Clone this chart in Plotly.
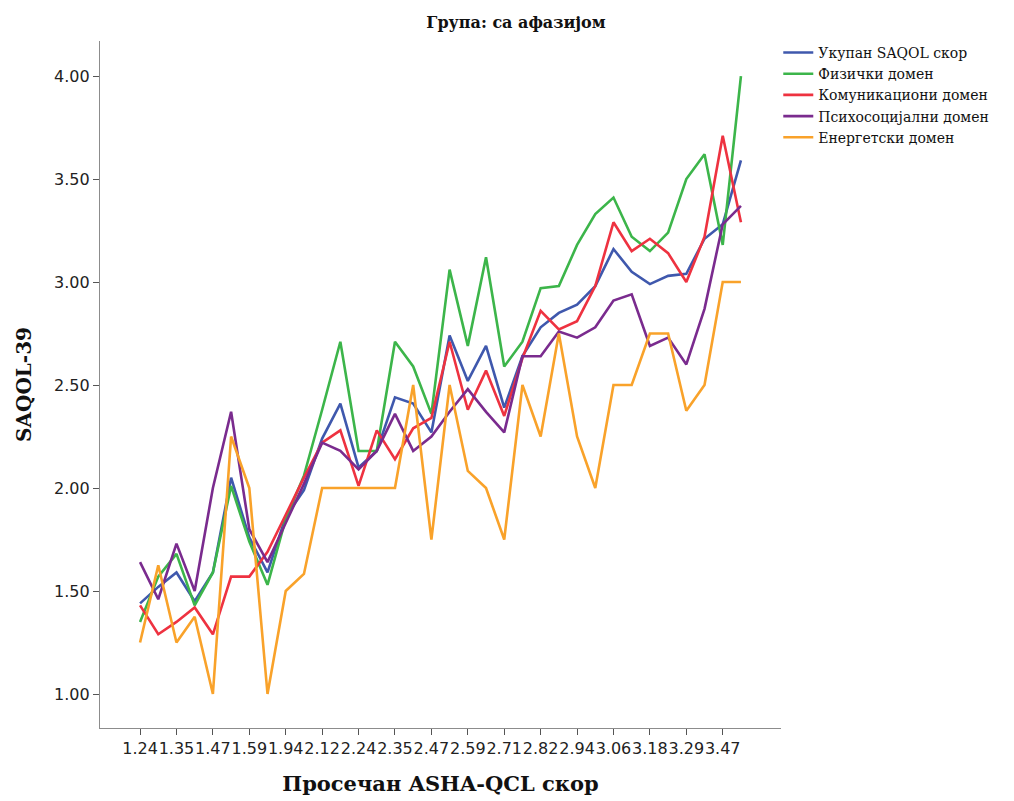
import plotly.graph_objects as go

categories = ["1.24", "1.29", "1.35", "1.41", "1.47", "1.53", "1.59", "1.76", "1.94", "2.06",
              "2.12", "2.18", "2.24", "2.29", "2.35", "2.41", "2.47", "2.53", "2.59", "2.65",
              "2.71", "2.76", "2.82", "2.88", "2.94", "3.00", "3.06", "3.12", "3.18", "3.24",
              "3.29", "3.35", "3.47", "3.53"]
tick_labels = ["1.24", "1.35", "1.47", "1.59", "1.94", "2.12", "2.24", "2.35", "2.47", "2.59",
               "2.71", "2.82", "2.94", "3.06", "3.18", "3.29", "3.47"]

ukupan = [1.44, 1.52, 1.59, 1.45, 1.59, 2.05, 1.76, 1.59, 1.86, 1.99,
          2.24, 2.41, 2.10, 2.18, 2.44, 2.41, 2.27, 2.74, 2.52, 2.69,
          2.39, 2.64, 2.78, 2.85, 2.89, 2.98, 3.16, 3.05, 2.99, 3.03,
          3.04, 3.21, 3.28, 3.59]
fizicki = [1.35, 1.57, 1.68, 1.43, 1.59, 2.01, 1.74, 1.53, 1.85, 2.06,
           2.38, 2.71, 2.18, 2.18, 2.71, 2.59, 2.36, 3.06, 2.69, 3.12,
           2.59, 2.71, 2.97, 2.98, 3.18, 3.33, 3.41, 3.22, 3.15, 3.24,
           3.50, 3.62, 3.18, 4.00]
komunikacioni = [1.43, 1.29, 1.35, 1.42, 1.29, 1.57, 1.57, 1.69, 1.87, 2.05,
                 2.22, 2.28, 2.01, 2.28, 2.14, 2.29, 2.34, 2.71, 2.38, 2.57,
                 2.35, 2.63, 2.86, 2.77, 2.81, 2.98, 3.29, 3.15, 3.21, 3.14,
                 3.00, 3.22, 3.71, 3.29]
psihosocijalni = [1.64, 1.46, 1.73, 1.50, 2.00, 2.37, 1.80, 1.64, 1.83, 2.02,
                  2.22, 2.18, 2.09, 2.18, 2.36, 2.18, 2.25, 2.37, 2.48, 2.37,
                  2.27, 2.64, 2.64, 2.76, 2.73, 2.78, 2.91, 2.94, 2.69, 2.73,
                  2.60, 2.87, 3.28, 3.37]
energetski = [1.25, 1.625, 1.25, 1.375, 1.00, 2.25, 2.00, 1.00, 1.50, 1.583,
              2.00, 2.00, 2.00, 2.00, 2.00, 2.50, 1.75, 2.50, 2.083, 2.00,
              1.75, 2.50, 2.25, 2.75, 2.25, 2.00, 2.50, 2.50, 2.75, 2.75,
              2.375, 2.50, 3.00, 3.00]

series = [
    ("Укупан SAQOL скор", ukupan, "#3f58ad"),
    ("Физички домен", fizicki, "#3cb54a"),
    ("Комуникациони домен", komunikacioni, "#ee3240"),
    ("Психосоцијални домен", psihosocijalni, "#7a2b8e"),
    ("Енергетски домен", energetski, "#f9a22a"),
]

fig = go.Figure()
for name, vals, color in series:
    fig.add_trace(go.Scatter(x=categories, y=vals, mode="lines", name=name,
                             line=dict(color=color, width=2.6)))

serif = "DejaVu Serif, serif"
sans = "DejaVu Sans, Verdana, sans-serif"

fig.update_layout(
    width=1014, height=801,
    margin=dict(l=92, r=241, t=33, b=81),
    paper_bgcolor="white", plot_bgcolor="white",
    title=dict(text="<b>Група: са афазијом</b>", x=0.501, xref="container",
               xanchor="center", y=0.9825, yanchor="middle",
               font=dict(family=serif, size=16, color="#111")),
    showlegend=True,
    legend=dict(x=0.996, y=1.006, xanchor="left", yanchor="top",
                font=dict(family=serif, size=14, color="#111"),
                tracegroupgap=0, itemwidth=30, bgcolor="rgba(0,0,0,0)"),
    xaxis=dict(type="category", categoryorder="array", categoryarray=categories,
               range=[-2.2, 35.2], tickmode="array", tickvals=tick_labels, ticktext=tick_labels,
               showline=True, linecolor="#8c8c8c", linewidth=1.2,
               ticks="outside", ticklen=6, tickcolor="#555", tickangle=0,
               showgrid=False, zeroline=False,
               tickfont=dict(family=sans, size=16, color="#222"),
               title=dict(text="<b>Просечан ASHA-QCL скор</b>", standoff=19,
                          font=dict(family=serif, size=21, color="#111"))),
    yaxis=dict(range=[0.835, 4.17], tickvals=[1.0, 1.5, 2.0, 2.5, 3.0, 3.5, 4.0],
               tickformat=".2f",
               showline=True, linecolor="#8c8c8c", linewidth=1.2,
               ticks="outside", ticklen=6, tickcolor="#555",
               showgrid=False, zeroline=False,
               tickfont=dict(family=sans, size=16, color="#222"),
               title=dict(text="<b>SAQOL-39</b>", standoff=17,
                          font=dict(family=serif, size=20, color="#111"))),
)

fig.write_html("out.html")
